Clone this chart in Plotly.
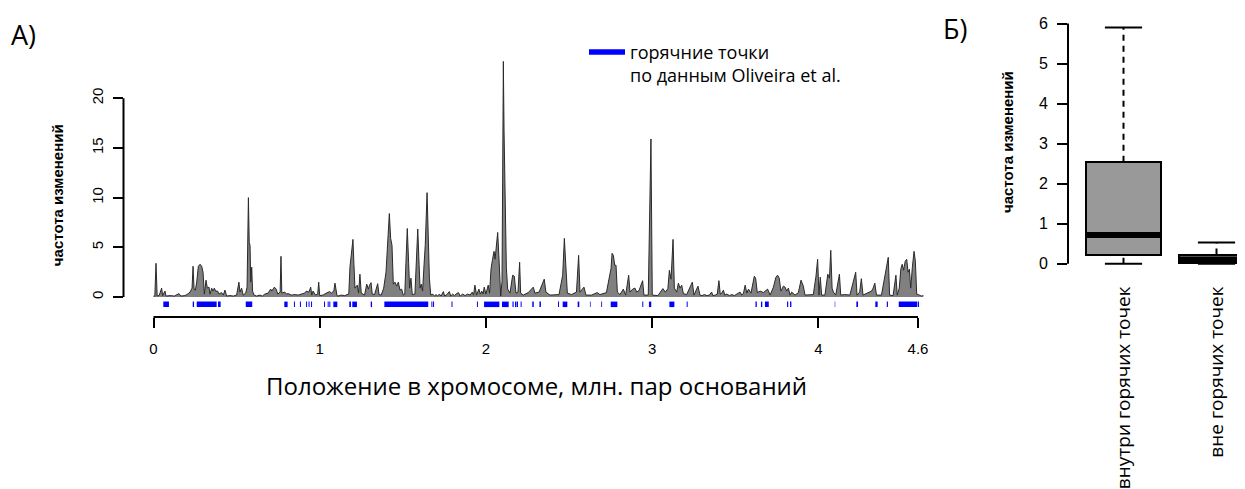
import plotly.graph_objects as go

# ---------------- Panel A data: change frequency along the chromosome ----------------
position_mb = [
    0.0, 0.008, 0.015, 0.022, 0.035, 0.049, 0.055, 0.069, 0.075, 0.1, 0.125, 0.153, 0.165, 0.19,
    0.205, 0.22, 0.232, 0.238, 0.244, 0.252, 0.26, 0.264, 0.27, 0.28, 0.29, 0.298, 0.306, 0.316,
    0.324, 0.334, 0.34, 0.35, 0.358, 0.366, 0.374, 0.386, 0.394, 0.41, 0.42, 0.43, 0.44, 0.46,
    0.48, 0.5, 0.514, 0.52, 0.53, 0.54, 0.555, 0.563, 0.571, 0.576, 0.581, 0.585, 0.591, 0.596,
    0.605, 0.62, 0.64, 0.655, 0.67, 0.69, 0.705, 0.712, 0.727, 0.738, 0.748, 0.762, 0.767, 0.772,
    0.79, 0.8, 0.81, 0.83, 0.85, 0.87, 0.89, 0.91, 0.92, 0.935, 0.946, 0.952, 0.96, 0.975, 0.988,
    0.994, 1.0, 1.02, 1.04, 1.05, 1.06, 1.07, 1.085, 1.092, 1.098, 1.104,
    1.11, 1.13, 1.15, 1.165, 1.175, 1.182, 1.187, 1.2, 1.206, 1.212, 1.226, 1.234, 1.242, 1.25,
    1.26, 1.27, 1.283, 1.293, 1.3, 1.309, 1.316, 1.33, 1.349, 1.357, 1.37, 1.385, 1.399, 1.409,
    1.419, 1.427, 1.435, 1.443, 1.453, 1.463, 1.473, 1.483, 1.493, 1.503, 1.512, 1.519, 1.527,
    1.535, 1.541, 1.549, 1.557, 1.573, 1.581, 1.59, 1.598, 1.604, 1.611, 1.619, 1.628, 1.635,
    1.646, 1.654, 1.66, 1.668, 1.68, 1.69, 1.70, 1.71, 1.72, 1.73, 1.744, 1.752, 1.765, 1.78, 1.788,
    1.80, 1.81, 1.82, 1.835, 1.845, 1.86, 1.875, 1.89, 1.905, 1.918, 1.926, 1.934, 1.944,
    1.958, 1.966, 1.975, 1.983, 1.99, 2.0, 2.014, 2.022, 2.031, 2.04, 2.049, 2.055, 2.065, 2.071, 2.079,
    2.089, 2.097, 2.105, 2.109, 2.115, 2.123, 2.131, 2.145, 2.161, 2.171, 2.181, 2.193, 2.203,
    2.209, 2.225, 2.255, 2.285, 2.295, 2.32, 2.351, 2.361, 2.385, 2.44, 2.462, 2.472, 2.482, 2.49,
    2.515, 2.545, 2.558, 2.566, 2.59, 2.602, 2.636, 2.67, 2.686, 2.725, 2.753, 2.759, 2.767, 2.775,
    2.783, 2.791, 2.807, 2.827, 2.841, 2.859, 2.867, 2.883, 2.897, 2.907, 2.921, 2.943, 2.951,
    2.977, 2.993, 3.001, 3.035, 3.065, 3.08, 3.095, 3.104, 3.114, 3.126, 3.134, 3.148, 3.158,
    3.168, 3.178, 3.188, 3.208, 3.242, 3.252, 3.276, 3.288,
    3.30, 3.315, 3.33, 3.345, 3.358, 3.366, 3.38, 3.392, 3.402, 3.41, 3.42, 3.429,
    3.437, 3.45, 3.465, 3.48, 3.495, 3.51, 3.529, 3.54, 3.55, 3.56, 3.57, 3.58, 3.595,
    3.615, 3.623, 3.633, 3.65, 3.67, 3.695, 3.71, 3.73, 3.745, 3.755, 3.765, 3.775,
    3.79, 3.8, 3.81, 3.82, 3.83, 3.84, 3.86, 3.88, 3.896, 3.91, 3.92, 3.95,
    3.97, 3.986, 3.996, 4.004, 4.012, 4.02, 4.04, 4.057, 4.067, 4.075, 4.083, 4.091, 4.105, 4.127,
    4.135, 4.16, 4.19, 4.225, 4.233, 4.249, 4.259, 4.269, 4.3, 4.32, 4.33, 4.34, 4.35, 4.38,
    4.421, 4.429, 4.45, 4.467, 4.475, 4.487, 4.497, 4.505, 4.513, 4.523, 4.532, 4.54, 4.548,
    4.556, 4.566, 4.576, 4.584, 4.592, 4.608, 4.62, 4.632,
]
change_freq = [
    0.1, 0.1, 3.4, 0.1, 0.2, 0.9, 0.15, 0.6, 0.1, 0.15, 0.1, 0.35, 0.1, 0.15,
    0.3, 0.5, 0.9, 3.1, 0.8, 0.7, 1.5, 2.2, 3.1, 3.3, 3.1, 2.5, 0.3, 1.7,
    0.9, 1.0, 0.3, 0.9, 0.6, 0.9, 0.6, 0.6, 0.3, 0.45, 0.2, 0.7, 0.1, 0.15,
    0.1, 0.2, 1.5, 0.5, 0.9, 0.2, 0.4, 1.0, 10.0, 5.5, 5.2, 1.5, 3.0, 0.6,
    0.2, 0.1, 0.2, 0.1, 0.3, 0.4, 0.8, 0.6, 1.0, 0.8, 0.3, 0.5, 4.1, 0.4,
    0.5, 0.3, 0.35, 0.2, 0.25, 0.2, 0.3, 0.4, 0.6, 0.5, 1.0, 0.2, 0.6, 0.2, 0.3,
    1.5, 0.15, 0.2, 0.4, 0.5, 0.55, 0.4, 0.6, 1.4, 0.6, 0.15,
    0.1, 0.2, 0.15, 0.2, 0.3, 3.0, 4.0, 5.8, 3.3, 0.9, 1.2, 0.4, 2.3, 0.4,
    0.3, 0.2, 1.3, 0.8, 1.2, 1.45, 0.3, 0.25, 1.35, 0.25, 0.2, 0.9, 2.5, 5.2,
    8.4, 5.9, 5.2, 1.3, 1.5, 1.1, 1.5, 0.7, 0.8, 0.2, 0.3, 3.5, 6.9,
    3.5, 0.9, 1.9, 0.25, 0.3, 3.3, 6.85, 3.3, 0.9, 1.3, 0.6, 3.3, 5.2,
    10.5, 5.2, 1.9, 0.2, 0.3, 0.1, 0.25, 0.1, 0.3, 0.1, 0.55, 0.1, 0.25, 0.55, 0.1,
    0.3, 0.15, 0.3, 0.45, 0.1, 0.3, 0.15, 0.3, 0.2, 0.5, 0.2, 1.2, 0.2,
    0.8, 0.3, 0.6, 0.3, 1.0, 0.3, 1.2, 0.4, 2.85, 3.8, 4.6, 3.8, 5.8, 6.5, 3.8,
    0.1, 1.6, 23.7, 16.9, 8.5, 3.0, 0.8, 0.4, 2.2, 2.1, 0.4, 0.5, 3.5,
    0.4, 0.2, 0.45, 1.0, 0.4, 0.5, 1.8, 0.5, 0.2, 0.25, 2.2, 5.9, 2.2, 0.4,
    0.25, 0.5, 4.2, 0.5, 1.0, 0.2, 0.2, 0.45, 0.25, 0.45, 2.9, 4.4, 4.2, 3.2,
    3.2, 0.5, 0.25, 0.8, 0.2, 2.2, 0.5, 0.8, 0.9, 0.5, 0.65, 1.65, 0.2,
    0.2, 15.9, 0.2, 0.15, 0.85, 0.5, 0.85, 2.7, 1.8, 5.8, 0.9, 0.5, 1.4,
    0.9, 1.2, 0.35, 0.25, 1.5, 0.2, 1.1, 0.2,
    0.15, 0.25, 0.15, 0.2, 0.5, 0.15, 0.2, 0.3, 1.65, 0.3, 0.4, 0.7,
    0.2, 0.3, 0.15, 0.25, 0.15, 0.3, 0.5, 0.2, 0.4, 1.2, 0.4, 0.8, 0.4,
    2.1, 1.9, 0.45, 0.6, 0.45, 0.8, 0.2, 1.0, 2.0, 2.2, 1.9, 0.6,
    1.1, 1.0, 0.6, 0.9, 0.2, 0.5, 0.2, 0.45, 1.7, 1.1, 0.2, 0.2,
    0.25, 2.1, 3.8, 0.2, 2.0, 0.2, 0.2, 2.3, 1.9, 4.7, 0.9, 0.5, 0.2, 2.3,
    0.2, 0.25, 0.2, 2.5, 0.2, 0.5, 1.85, 0.2, 0.45, 0.6, 0.9, 1.4, 0.2, 0.2,
    4.0, 0.2, 0.15, 2.2, 0.2, 0.9, 2.85, 3.3, 2.7, 3.6, 3.8, 2.5, 2.8,
    0.9, 3.0, 4.6, 3.6, 0.3, 0.2, 0.1, 0.15,
]
assert len(position_mb) == len(change_freq)

# hotspots (Oliveira et al.), start / end in Mb
hotspot_start = [
    0.059, 0.236, 0.260, 0.388, 0.555, 0.787, 0.845, 0.881, 0.918, 0.933, 0.948, 1.026, 1.048,
    1.058, 1.082, 1.178, 1.196, 1.307, 1.389, 1.672, 1.682, 1.793, 1.946, 1.989, 2.097, 2.160,
    2.175, 2.187, 2.209, 2.279, 2.322, 2.434, 2.462, 2.552, 2.626, 2.694, 2.751, 2.941, 2.981,
    3.104, 3.208, 3.622, 3.655, 3.679, 3.812, 3.830, 4.099, 4.229, 4.343, 4.412, 4.484, 4.600,
]
hotspot_end = [
    0.093, 0.244, 0.380, 0.404, 0.594, 0.807, 0.851, 0.887, 0.924, 0.939, 0.954, 1.032, 1.054,
    1.064, 1.106, 1.188, 1.224, 1.315, 1.653, 1.678, 1.688, 1.799, 1.952, 2.081, 2.137, 2.167,
    2.184, 2.193, 2.215, 2.288, 2.331, 2.440, 2.490, 2.562, 2.630, 2.699, 2.791, 2.947, 2.995,
    3.134, 3.214, 3.630, 3.663, 3.702, 3.819, 3.838, 4.102, 4.239, 4.357, 4.419, 4.596, 4.606,
]

x_tick_vals = [0, 1, 2, 3, 4, 4.6]
x_tick_text = ["0", "1", "2", "3", "4", "4.6"]
y_tick_vals = [0, 5, 10, 15, 20]

# ---------------- Panel B data: box statistics ----------------
groups = ["внутри горячих точек", "вне горячих точек"]
box_q1 = [0.22, 0.03]
box_median = [0.72, 0.11]
box_q3 = [2.55, 0.23]
box_low = [0.0, 0.0]
box_high = [5.9, 0.53]
yb_tick_vals = [0, 1, 2, 3, 4, 5, 6]

ARIAL = "Liberation Sans"
SANS = "Open Sans"

# the page body has an 8px margin; the figure is sized to fill the rest of the window
OFF = 8
W, H = 1245 - OFF, 489 - OFF


def px_x(px):
    """window pixel x -> paper coordinate"""
    return (px - OFF) / W


def px_y(py):
    """window pixel y -> paper coordinate"""
    return 1 - (py - OFF) / H


fig = go.Figure()

# signal
fig.add_trace(go.Scatter(
    x=position_mb, y=change_freq, mode="lines", fill="tozeroy",
    fillcolor="rgb(128,128,128)", line=dict(color="#2a2a2a", width=1),
    showlegend=False, hoverinfo="skip", xaxis="x", yaxis="y",
))

# hotspot rug
rug_y = -0.73
rx, ry = [], []
for s, e in zip(hotspot_start, hotspot_end):
    rx += [s, e, None]
    ry += [rug_y, rug_y, None]
fig.add_trace(go.Scatter(
    x=rx, y=ry, mode="lines", line=dict(color="#0000ff", width=5.5),
    name="горячние точки<br>по данным Oliveira et al.", showlegend=True,
    xaxis="x", yaxis="y",
))

# ---------------- Panel B: boxes ----------------
box_w = 0.8
positions = [1, 2]
fig.add_trace(go.Bar(
    x=positions, y=[q3 - q1 for q1, q3 in zip(box_q1, box_q3)], base=box_q1,
    width=box_w, marker=dict(color="#999999", line=dict(color="black", width=2)),
    showlegend=False, xaxis="x2", yaxis="y2",
))
wx, wy = [], []
for p, lo, q1, q3, hi in zip(positions, box_low, box_q1, box_q3, box_high):
    wx += [p, p, None, p, p, None]
    wy += [q3, hi, None, lo, q1, None]
fig.add_trace(go.Scatter(x=wx, y=wy, mode="lines", line=dict(color="black", width=2, dash="6px,5px"),
                         showlegend=False, xaxis="x2", yaxis="y2"))
sx, sy = [], []
for p, lo, hi in zip(positions, box_low, box_high):
    sx += [p - box_w / 4, p + box_w / 4, None, p - box_w / 4, p + box_w / 4, None]
    sy += [hi, hi, None, lo, lo, None]
fig.add_trace(go.Scatter(x=sx, y=sy, mode="lines", line=dict(color="black", width=2),
                         showlegend=False, xaxis="x2", yaxis="y2"))
mx, my = [], []
for p, m in zip(positions, box_median):
    mx += [p - box_w / 2, p + box_w / 2, None]
    my += [m, m, None]
fig.add_trace(go.Scatter(x=mx, y=my, mode="lines", line=dict(color="black", width=6),
                         showlegend=False, xaxis="x2", yaxis="y2"))

# ---------------- layout (geometry in window pixels of the reference) ----------------
px_per_mb = 166.2
x0_px = 153.5
xa_left_px, xa_right_px = 123.5, 948.6
ya_top_px, ya_bot_px = 50, 319
y0_px, px_per_unit = 298.7, 10.07

xb_left_px, xb_right_px = 1068, 1245
pos1_px, px_per_pos = 1123.5, 93.0
yb_top_px, yb_bot_px = 15, 275
yb0_px, px_per_unit_b = 265, 40.55

tickfont = dict(family=ARIAL, size=15, color="black")

fig.update_layout(
    width=W, height=H, margin=dict(l=0, r=0, t=0, b=0),
    paper_bgcolor="white", plot_bgcolor="white",
    xaxis=dict(
        domain=[px_x(xa_left_px), px_x(xa_right_px)],
        range=[(xa_left_px - x0_px) / px_per_mb, (xa_right_px - x0_px) / px_per_mb],
        tickvals=x_tick_vals, ticktext=x_tick_text, ticks="outside", ticklen=10, tickwidth=2,
        tickcolor="black", showline=False, showgrid=False, zeroline=False, tickfont=tickfont,
        ticklabelstandoff=8, anchor="y",
    ),
    yaxis=dict(
        domain=[px_y(ya_bot_px), px_y(ya_top_px)],
        range=[(y0_px - ya_bot_px) / px_per_unit, (y0_px - ya_top_px) / px_per_unit],
        tickvals=y_tick_vals, ticks="outside", ticklen=10, tickwidth=2, tickcolor="black",
        tickangle=-90, showline=False, showgrid=False, zeroline=False, tickfont=tickfont,
        ticklabelstandoff=4, anchor="x",
    ),
    xaxis2=dict(
        domain=[px_x(xb_left_px), px_x(xb_right_px)],
        range=[1 - (pos1_px - xb_left_px) / px_per_pos, 1 + (xb_right_px - pos1_px) / px_per_pos],
        tickvals=positions, ticktext=groups, tickangle=-90, ticks="", showline=False,
        showgrid=False, zeroline=False, tickfont=dict(family=SANS, size=19, color="black"),
        ticklabelstandoff=8, anchor="y2",
    ),
    yaxis2=dict(
        domain=[px_y(yb_bot_px), px_y(yb_top_px)],
        range=[(yb0_px - yb_bot_px) / px_per_unit_b, (yb0_px - yb_top_px) / px_per_unit_b],
        tickvals=yb_tick_vals, ticks="outside", ticklen=10, tickwidth=2, tickcolor="black",
        showline=False, showgrid=False, zeroline=False, tickfont=dict(family=ARIAL, size=16, color="black"),
        ticklabelstandoff=6, anchor="x2",
    ),
    legend=dict(
        x=px_x(584), y=px_y(32), xanchor="left", yanchor="top", valign="top",
        font=dict(family=SANS, size=18, color="black"), bgcolor="rgba(0,0,0,0)",
        itemwidth=36,
    ),
    shapes=[
        dict(type="line", xref="x domain", yref="y", x0=0, x1=0, y0=y_tick_vals[0], y1=y_tick_vals[-1],
             line=dict(color="black", width=2)),
        dict(type="line", xref="x", yref="y domain", x0=x_tick_vals[0], x1=x_tick_vals[-1], y0=0, y1=0,
             line=dict(color="black", width=2)),
        dict(type="line", xref="x2 domain", yref="y2", x0=0, x1=0, y0=yb_tick_vals[0], y1=yb_tick_vals[-1],
             line=dict(color="black", width=2)),
    ],
    annotations=[
        dict(text="А)", x=px_x(9), y=px_y(33), xref="paper", yref="paper", xanchor="left",
             yanchor="middle", showarrow=False, font=dict(family=SANS, size=27, color="black")),
        dict(text="Б)", x=px_x(941), y=px_y(27), xref="paper", yref="paper", xanchor="left",
             yanchor="middle", showarrow=False, font=dict(family=SANS, size=27, color="black")),
        dict(text="Положение в хромосоме, млн. пар оснований", x=px_x(536), y=px_y(388),
             xref="paper", yref="paper", xanchor="center", yanchor="middle", showarrow=False,
             font=dict(family=SANS, size=24, color="black")),
        dict(text="<b>частота изменений</b>", x=px_x(57.5), y=px_y(196), xref="paper", yref="paper",
             xanchor="center", yanchor="middle", textangle=-90, showarrow=False,
             font=dict(family=ARIAL, size=15, color="black")),
        dict(text="<b>частота изменений</b>", x=px_x(1007), y=px_y(141.7), xref="paper", yref="paper",
             xanchor="center", yanchor="middle", textangle=-90, showarrow=False,
             font=dict(family=ARIAL, size=15, color="black")),
    ],
    bargap=0,
)

fig.write_html("out.html")
